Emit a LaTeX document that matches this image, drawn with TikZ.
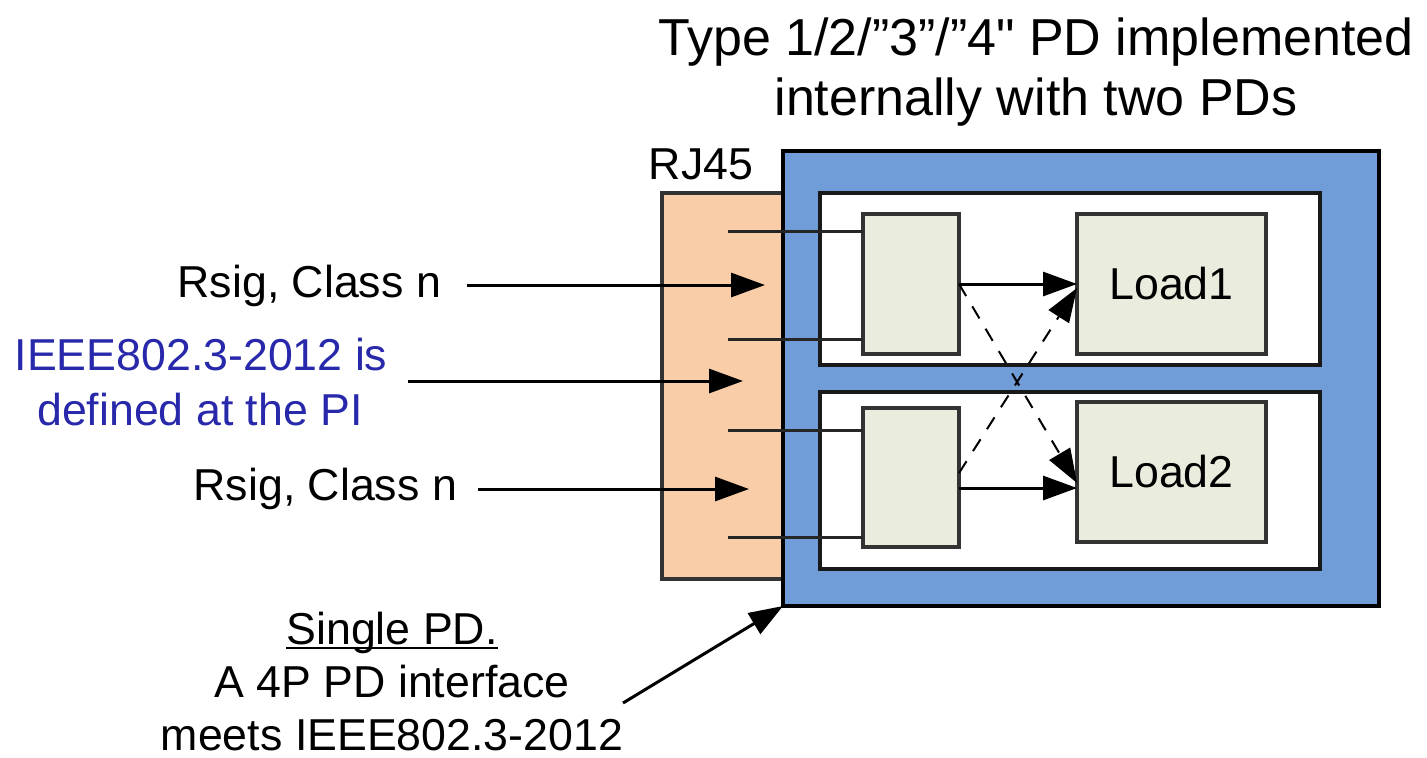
\documentclass[tikz,border=0pt]{standalone}
\usepackage{fontspec}
\setmainfont{Liberation Sans}
\newfontfamily\plainfont{Liberation Sans}[Ligatures=TeXOff]
\usetikzlibrary{arrows.meta}
\definecolor{peach}{HTML}{F9CDA8}
\definecolor{pdblue}{HTML}{709CD8}
\definecolor{loadfill}{HTML}{EAEDDE}
\definecolor{boxline}{HTML}{333333}
\definecolor{ieeeblue}{HTML}{2828AA}
\begin{document}
\begin{tikzpicture}[x=0.5pt,y=-0.5pt,
  box/.style={draw=boxline, line width=1.6pt, inner sep=0pt, outer sep=0pt},
  lbl/.style={inner sep=0pt, outer sep=0pt, font=\fontsize{22.35}{27}\selectfont},
  ttl/.style={inner sep=0pt, outer sep=0pt, font=\plainfont\fontsize{26}{30}\selectfont},
  arr/.style={-{Triangle[length=17pt,width=12pt]}, line width=1.5pt, draw=black!85, color=black},
  wire/.style={line width=1.5pt, draw=black!85},
  dsh/.style={-{Triangle[length=17pt,width=12pt]}, line width=1pt, dash pattern=on 7pt off 6pt, color=black}
]
\useasboundingbox (0,0) rectangle (1427,757);

% boxes
\node[box, fill=peach, minimum width=69pt, minimum height=193pt] (rj) at (731,386) {};
\node[box, draw=black, fill=pdblue, minimum width=298pt, minimum height=227.5pt] (pd) at (1081,378.5) {};
\node[box, draw=black!90, fill=white, minimum width=250pt, minimum height=86pt] (w1) at (1070,279) {};
\node[box, draw=black!90, fill=white, minimum width=250pt, minimum height=88.5pt] (w2) at (1070,480.5) {};

% wires from the RJ45 to the inner PDs
\coordinate (c1) at (728,231);
\coordinate (c2) at (728,339);
\coordinate (c3) at (728,430);
\coordinate (c4) at (728,537);

\node[box, fill=loadfill, minimum width=48pt, minimum height=70pt] (pd1) at (911,284) {};
\node[box, fill=loadfill, minimum width=48pt, minimum height=69.5pt] (pd2) at (911,477.5) {};
\node[box, fill=loadfill, minimum width=94.5pt, minimum height=70pt, font=\fontsize{22.35}{27}\selectfont] (load1) at (1171.5,284) {Load1};
\node[box, fill=loadfill, minimum width=94.5pt, minimum height=70pt, font=\fontsize{22.35}{27}\selectfont] (load2) at (1171.5,472) {Load2};

\draw[wire] (c1) -- (c1 -| pd1.west);
\draw[wire] (c2) -- (c2 -| pd1.west);
\draw[wire] (c3) -- (c3 -| pd2.west);
\draw[wire] (c4) -- (c4 -| pd2.west);

% PD -> load arrows
\draw[arr] (pd1.east) -- (load1.west);
\draw[arr] ([yshift=-5.25pt]pd2.east) -- ([yshift=-8pt]load2.west);
\draw[dsh] (pd1.east) -- ([yshift=-5.5pt]load2.west);
\draw[dsh] ([yshift=2.25pt]pd2.east) -- ([yshift=-2pt]load1.west);

% texts
\node[ttl, anchor=base] (title1) at (1036,55) {Type 1/2/”3”/”4" PD implemented};
\node[ttl, anchor=base] (title2) at (1036,115) {internally with two PDs};
\node[lbl, anchor=base] (rj45) at (701,179) {RJ45};
\node[lbl, anchor=base east] (rsig1) at (441,297) {Rsig, Class n};
\node[lbl, anchor=base, text=ieeeblue] (ieee1) at (201,370) {IEEE802.3-2012 is};
\node[lbl, anchor=base, text=ieeeblue] (ieee2) at (200,425) {defined at the PI};
\node[lbl, anchor=base east] (rsig2) at (457,500) {Rsig, Class n};
\node[lbl, anchor=base] (single) at (392,644) {Single PD.};
\node[lbl, anchor=base] (ifc) at (392,697) {A 4P PD interface};
\node[lbl, anchor=base] (meets) at (392,750) {meets IEEE802.3-2012};
\draw[line width=1pt] ([yshift=-2pt]single.base west) -- ([yshift=-2pt]single.base east);

% input arrows
\coordinate (s1) at (467,285);
\coordinate (t1) at (765,285);
\coordinate (s2) at (408,381);
\coordinate (t2) at (743,381);
\coordinate (s3) at (478,489);
\coordinate (t3) at (749,489);
\coordinate (s4) at (623,703);
\draw[arr] (s1) -- (t1);
\draw[arr] (s2) -- (t2);
\draw[arr] (s3) -- (t3);
\draw[arr] (s4) -- (pd.south west);
\end{tikzpicture}
\end{document}
